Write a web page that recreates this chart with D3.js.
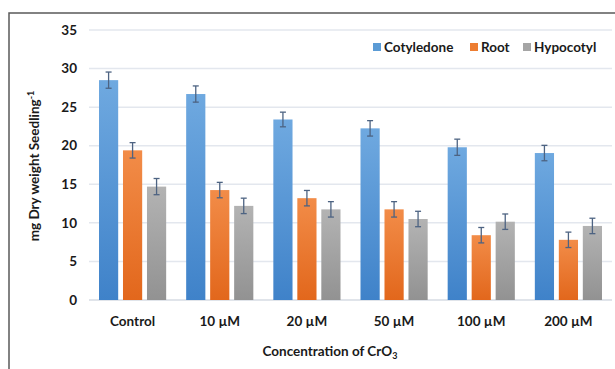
<!DOCTYPE html>
<html>
<head>
<meta charset="utf-8">
<script src="https://cdn.jsdelivr.net/npm/d3@7"></script>
<style>
  body { margin: 0; background: #fff; }
  svg { display: block; font-family: Lato, "Open Sans", sans-serif; }
</style>
</head>
<body>
<svg id="chart" width="615" height="369"></svg>
<script>
var categories = ["Control", "10 \u00b5M", "20 \u00b5M", "50 \u00b5M", "100 \u00b5M", "200 \u00b5M"];
var seriesNames = ["Cotyledone", "Root", "Hypocotyl"];
var cotyledone = [28.5, 26.7, 23.4, 22.25, 19.8, 19.05];
var root = [19.4, 14.25, 13.2, 11.75, 8.4, 7.8];
var hypocotyl = [14.7, 12.2, 11.75, 10.5, 10.15, 9.6];
var cotyledoneErr = [1.05, 1.05, 0.95, 1.0, 1.05, 1.0];
var rootErr = [1.0, 1.0, 1.0, 1.0, 1.0, 1.0];
var hypocotylErr = [1.05, 1.0, 1.0, 1.0, 1.0, 1.0];
var yTicks = [0, 5, 10, 15, 20, 25, 30, 35];

var values = [cotyledone, root, hypocotyl];
var errors = [cotyledoneErr, rootErr, hypocotylErr];
var colors = {
    Cotyledone: ["#6fa9e0", "#3f82c9"],
    Root: ["#f28c48", "#e2671c"],
    Hypocotyl: ["#b3b3b3", "#929292"]
};
var legendColors = { Cotyledone: "#5b9bd5", Root: "#ed7d31", Hypocotyl: "#a5a5a5" };

var svg = d3.select("#chart");

// frame
svg.append("path")
    .attr("d", "M9,369 V13 H615")
    .attr("fill", "none")
    .attr("stroke", "#5a5a5a")
    .attr("stroke-width", 1.5);

var defs = svg.append("defs");
seriesNames.forEach(function (s) {
    var g = defs.append("linearGradient")
        .attr("id", "grad_" + s)
        .attr("x1", 0).attr("y1", 0).attr("x2", 0).attr("y2", 1);
    g.append("stop").attr("offset", "0%").attr("stop-color", colors[s][0]);
    g.append("stop").attr("offset", "100%").attr("stop-color", colors[s][1]);
});

var y = d3.scaleLinear().domain([0, 35]).range([300, 30]);
var x0 = d3.scaleBand().domain(categories).range([89, 612]);
var x1 = d3.scaleBand().domain(seriesNames).range([10, x0.bandwidth() - 10]).paddingInner(0.2);

// grid
svg.append("g").selectAll("line")
    .data(yTicks)
    .enter()
    .append("line")
    .attr("x1", 89)
    .attr("x2", 612)
    .attr("y1", d => y(d))
    .attr("y2", d => y(d))
    .attr("stroke", d => d === 0 ? "#d6dbe3" : "#e3e7ee")
    .attr("stroke-width", 1.5);

// y tick labels
svg.append("g").selectAll("text")
    .data(yTicks)
    .enter()
    .append("text")
    .attr("x", 77)
    .attr("y", d => y(d))
    .attr("dy", "0.35em")
    .attr("text-anchor", "end")
    .attr("font-size", "13.5px")
    .attr("font-weight", "bold")
    .attr("fill", "#1a1a1a")
    .text(d => d);

// bars
var groups = svg.append("g").selectAll("g")
    .data(categories)
    .enter()
    .append("g")
    .attr("transform", d => "translate(" + x0(d) + ",0)");

groups.selectAll("rect")
    .data((c, ci) => seriesNames.map((s, si) => ({ s: s, v: values[si][ci], e: errors[si][ci] })))
    .enter()
    .append("rect")
    .attr("x", d => x1(d.s))
    .attr("y", d => y(d.v))
    .attr("width", x1.bandwidth())
    .attr("height", d => y(0) - y(d.v))
    .attr("fill", d => "url(#grad_" + d.s + ")");

// error bars
var eb = groups.selectAll("g.err")
    .data((c, ci) => seriesNames.map((s, si) => ({ s: s, v: values[si][ci], e: errors[si][ci] })))
    .enter()
    .append("g")
    .attr("class", "err")
    .attr("stroke", "#4d6382")
    .attr("stroke-width", 1.3);

eb.append("line")
    .attr("x1", d => x1(d.s) + x1.bandwidth() / 2)
    .attr("x2", d => x1(d.s) + x1.bandwidth() / 2)
    .attr("y1", d => y(d.v + d.e))
    .attr("y2", d => y(d.v - d.e));
eb.append("line")
    .attr("x1", d => x1(d.s) + x1.bandwidth() / 2 - 3)
    .attr("x2", d => x1(d.s) + x1.bandwidth() / 2 + 3)
    .attr("y1", d => y(d.v + d.e))
    .attr("y2", d => y(d.v + d.e));
eb.append("line")
    .attr("x1", d => x1(d.s) + x1.bandwidth() / 2 - 3)
    .attr("x2", d => x1(d.s) + x1.bandwidth() / 2 + 3)
    .attr("y1", d => y(d.v - d.e))
    .attr("y2", d => y(d.v - d.e));

// category labels
svg.append("g").selectAll("text")
    .data(categories)
    .enter()
    .append("text")
    .attr("x", d => x0(d) + x0.bandwidth() / 2)
    .attr("y", 326)
    .attr("text-anchor", "middle")
    .attr("font-size", "13.5px")
    .attr("font-weight", "bold")
    .attr("fill", "#1a1a1a")
    .text(d => d);

// x title
var xt = svg.append("text")
    .attr("x", 330)
    .attr("y", 356)
    .attr("text-anchor", "middle")
    .attr("font-size", "13.5px")
    .attr("font-weight", "bold")
    .attr("fill", "#1a1a1a")
    .text("Concentration of CrO");
xt.append("tspan")
    .attr("font-size", "9px")
    .attr("dy", "3")
    .text("3");

// y title
var yt = svg.append("text")
    .attr("transform", "translate(39,166) rotate(-90)")
    .attr("text-anchor", "middle")
    .attr("font-size", "13.5px")
    .attr("font-weight", "bold")
    .attr("fill", "#1a1a1a")
    .text("mg Dry weight Seedling");
yt.append("tspan")
    .attr("font-size", "9px")
    .attr("dy", "-5")
    .text("-1");

// legend
var legendX = [373, 470, 523];
var legend = svg.append("g").selectAll("g")
    .data(seriesNames)
    .enter()
    .append("g")
    .attr("transform", (d, i) => "translate(" + legendX[i] + ",47)");

legend.append("rect")
    .attr("x", 0)
    .attr("y", -4)
    .attr("width", 8)
    .attr("height", 8)
    .attr("fill", d => legendColors[d]);

legend.append("text")
    .attr("x", 11)
    .attr("y", 0)
    .attr("dy", "0.35em")
    .attr("font-size", "13.5px")
    .attr("font-weight", "bold")
    .attr("fill", "#1a1a1a")
    .text(d => d);
</script>
</body>
</html>
